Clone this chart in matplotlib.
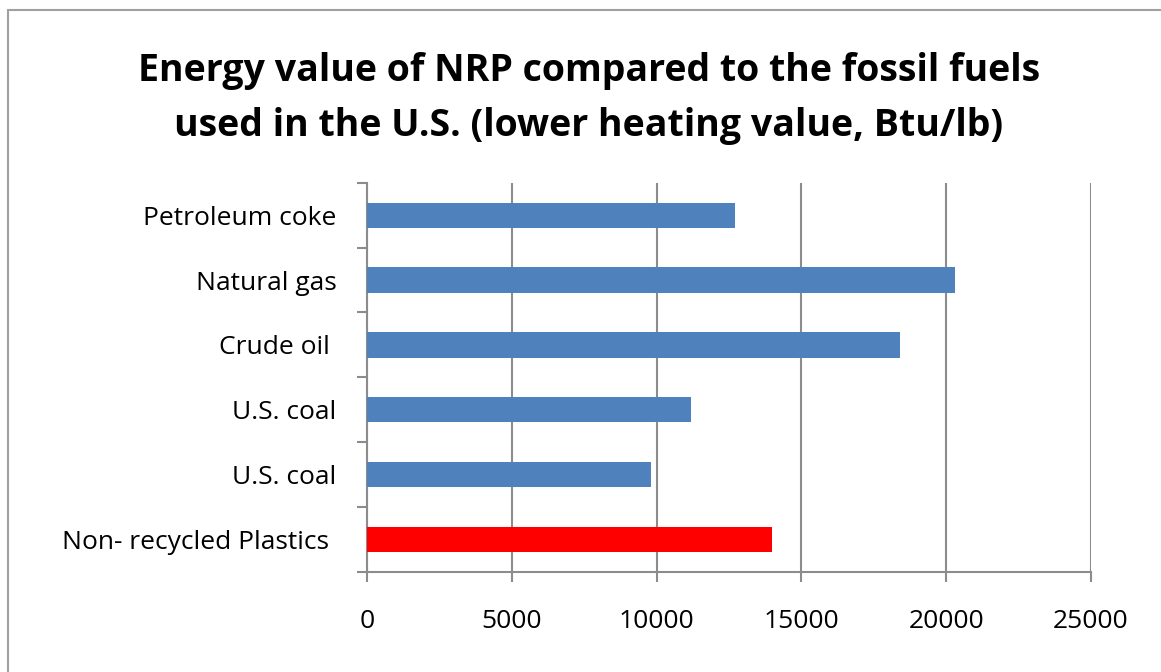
import matplotlib
matplotlib.use('Agg')
import matplotlib.pyplot as plt
from matplotlib.patches import Rectangle

categories = ['Petroleum coke', 'Natural gas', 'Crude oil ', 'U.S. coal', 'U.S. coal', 'Non- recycled Plastics ']
values = [12700, 20300, 18400, 11200, 9800, 14000]
colors = ['#4F81BD', '#4F81BD', '#4F81BD', '#4F81BD', '#4F81BD', '#FF0000']
xticks = [0, 5000, 10000, 15000, 20000, 25000]

plt.rcParams['font.family'] = ['Open Sans', 'DejaVu Sans']

fig = plt.figure(figsize=(11.61, 6.72), dpi=100)
ax = fig.add_axes([0.316, 0.149, 0.6237, 0.579])

# border around the chart area (right and bottom edges fall outside the picture)
fig.patches.append(Rectangle((8 / 1161, -0.1), 1.5, 1.1 - 10 / 672, transform=fig.transFigure,
                             fill=False, edgecolor='#A0A0A0', linewidth=1.5))

pos = list(range(len(categories)))[::-1]
ax.barh(pos, values, height=0.39, color=colors, zorder=3)

ax.set_xlim(0, 25000)
ax.set_ylim(-0.5, len(categories) - 0.5)
ax.set_xticks(xticks)
ax.set_xticklabels([str(t) for t in xticks], fontsize=19)
ax.set_yticks(pos)
ax.set_yticklabels(categories, fontsize=19)
ax.set_yticks([p - 0.5 for p in range(len(categories) + 1)], minor=True)

ax.grid(axis='x', color='#8C8C8C', linewidth=1.5, zorder=0)
for s in ['top', 'right']:
    ax.spines[s].set_visible(False)
for s in ['left', 'bottom']:
    ax.spines[s].set_color('#8C8C8C')
    ax.spines[s].set_linewidth(1.5)

ax.tick_params(axis='y', which='major', length=0, pad=22)
ax.tick_params(axis='y', which='minor', length=7, color='#8C8C8C', width=1.5)
ax.tick_params(axis='x', length=7, color='#8C8C8C', width=1.5, pad=20)

fig.text(0.507, 0.853, 'Energy value of NRP compared to the fossil fuels\nused in the U.S. (lower heating value, Btu/lb)',
         ha='center', va='center', fontsize=27, fontweight='bold', linespacing=1.6)

plt.savefig('out.png', dpi=100)
